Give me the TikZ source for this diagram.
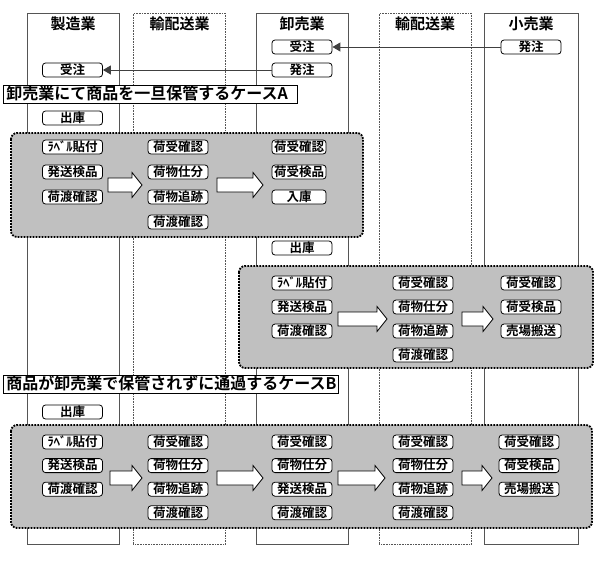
\documentclass[tikz,border=0pt]{standalone}
\usepackage{fontspec}
\setmainfont{Noto Sans CJK JP}[BoldFont={Noto Sans CJK JP Bold}]
\usepackage{tikz}
\usetikzlibrary{arrows.meta, positioning}
\definecolor{lanegray}{RGB}{85, 85, 85}
\definecolor{groupgray}{RGB}{192, 192, 192}

\tikzset{
  lane/.style={draw=lanegray, line width=1.3pt, anchor=north west, minimum width=92pt, minimum height=531pt, inner sep=0pt},
  lanedot/.style={lane, line width=0.8pt, dash pattern=on 0.8pt off 0.8pt},
  lanehead/.style={font=\fontsize{15}{17}\selectfont\bfseries, inner sep=0pt},
  task/.style={draw=black, fill=white, rounded corners=3pt, line width=0.8pt, minimum width=60pt, minimum height=14pt, inner sep=0pt, text height=10pt, text depth=1.5pt, font=\fontsize{12.5}{13}\selectfont\bfseries},
  grp/.style={fill=groupgray, draw=black, line width=1.8pt, dash pattern=on 1.8pt off 1.2pt, rounded corners=6pt},
  banner/.style={draw=black, fill=white, line width=0.8pt, anchor=north west, align=left, inner xsep=3pt, inner ysep=0pt, minimum height=18pt, text height=12.5pt, text depth=3pt, font=\fontsize{16}{17}\selectfont\bfseries},
  blockarrow/.style={draw=black, fill=white, line width=0.8pt, line join=miter},
  order/.style={draw=black!75, line width=1pt, -{Triangle[length=8pt, width=9pt]}}
}

\begin{document}
\begin{tikzpicture}[x=1pt, y=-1pt]
    \useasboundingbox (0,0) rectangle (600,560);

    % Lanes
    \node[lane] (mfg) at (27,13) {};
    \node[lanedot] (trans1) at (133,13) {};
    \node[lane] (whole) at (256,13) {};
    \node[lanedot] (trans2) at (379,13) {};
    \node[lane, minimum width=94pt] (retail) at (484,13) {};
    \node[lanehead] at (73,24) {製造業};
    \node[lanehead] at (179.5,24) {輸配送業};
    \node[lanehead] at (302,24) {卸売業};
    \node[lanehead] at (425,24) {輸配送業};
    \node[lanehead] at (531,24) {小売業};

    % Orders
    \node[task] (orderR) at (531,47) {発注};
    \node[task] (recvW) at (302,47) {受注};
    \node[task] (orderW) at (302,70) {発注};
    \node[task] (recvM) at (72.5,70) {受注};
    \draw[order] (orderR.west) -- (recvW.east);
    \draw[order] (orderW.west) -- (recvM.east);

    % Case A
    \node[banner, text width=288pt] (caseA) at (3,85) {卸売業にて商品を一旦保管するケースA};
    \node[task] (shipA) at (72.5,118) {出庫};
    \draw[grp] (11,133) rectangle (363,237);
    \foreach \t [count=\i] in {ﾗﾍﾞﾙ貼付,発送検品,荷渡確認}
      \node[task] (aM\i) at (72.5,{147+25*(\i-1)}) {\t};
    \foreach \t [count=\i] in {荷受確認,荷物仕分,荷物追跡,荷渡確認}
      \node[task] (aT\i) at (178,{147+25*(\i-1)}) {\t};
    \foreach \t [count=\i] in {荷受確認,荷受検品,入庫}
      \node[task, minimum width=54pt] (aW\i) at (299,{147+25*(\i-1)}) {\t};
    \foreach \xa/\xb in {108/142, 217/263}
      \draw[blockarrow] (\xa,178) -- (\xb-10,178) -- (\xb-10,172.5) -- (\xb,185)
        -- (\xb-10,197.5) -- (\xb-10,192) -- (\xa,192) -- cycle;

    % Case A, wholesaler to retailer
    \node[task] (shipW) at (302,248) {出庫};
    \draw[grp] (239,266) rectangle (593,368);
    \foreach \t [count=\i] in {ﾗﾍﾞﾙ貼付,発送検品,荷渡確認}
      \node[task] (bW\i) at (302,{283+24*(\i-1)}) {\t};
    \foreach \t [count=\i] in {荷受確認,荷物仕分,荷物追跡,荷渡確認}
      \node[task] (bT\i) at (423,{283+24*(\i-1)}) {\t};
    \foreach \t [count=\i] in {荷受確認,荷受検品,売場搬送}
      \node[task] (bR\i) at (531,{283+24*(\i-1)}) {\t};
    \foreach \xa/\xb in {338/387, 462/493}
      \draw[blockarrow] (\xa,312) -- (\xb-10,312) -- (\xb-10,306.5) -- (\xb,319)
        -- (\xb-10,331.5) -- (\xb-10,326) -- (\xa,326) -- cycle;

    % Case B
    \node[banner, text width=329pt] (caseB) at (3,375) {商品が卸売業で保管されずに通過するケースB};
    \node[task] (shipC) at (72.5,412) {出庫};
    \draw[grp] (11,425) rectangle (592,528);
    \foreach \t [count=\i] in {ﾗﾍﾞﾙ貼付,発送検品,荷渡確認}
      \node[task] (cM\i) at (72.5,{442+23.6*(\i-1)}) {\t};
    \foreach \t [count=\i] in {荷受確認,荷物仕分,荷物追跡,荷渡確認}
      \node[task] (cT\i) at (178,{442+23.6*(\i-1)}) {\t};
    \foreach \t [count=\i] in {荷受確認,荷物仕分,発送検品,荷渡確認}
      \node[task] (cW\i) at (302,{442+23.6*(\i-1)}) {\t};
    \foreach \t [count=\i] in {荷受確認,荷物仕分,荷物追跡,荷渡確認}
      \node[task] (cU\i) at (423,{442+23.6*(\i-1)}) {\t};
    \foreach \t [count=\i] in {荷受確認,荷受検品,売場搬送}
      \node[task] (cR\i) at (529,{442+23.6*(\i-1)}) {\t};
    \foreach \xa/\xb in {110/142, 217/263, 338/385, 462/492}
      \draw[blockarrow] (\xa,471) -- (\xb-10,471) -- (\xb-10,465.5) -- (\xb,478)
        -- (\xb-10,490.5) -- (\xb-10,485) -- (\xa,485) -- cycle;
\end{tikzpicture}
\end{document}
